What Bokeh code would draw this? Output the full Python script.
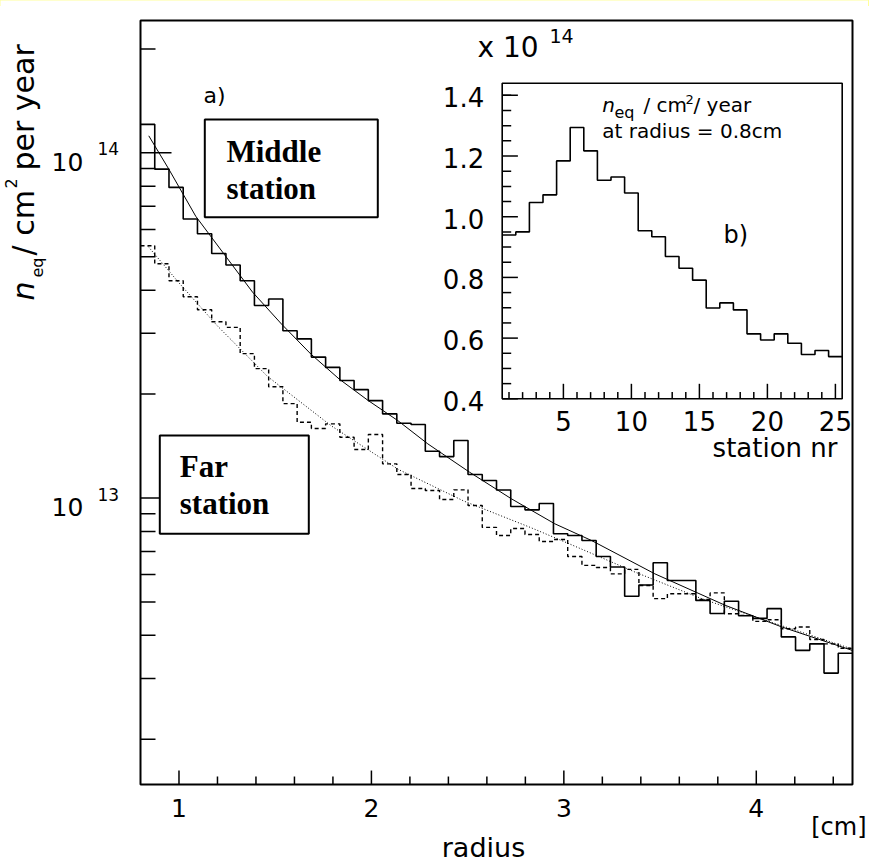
import numpy as np
from bokeh.plotting import figure
from bokeh.models import Range1d, LinearScale, Label, BoxAnnotation
from bokeh.embed import file_html
from bokeh.resources import INLINE

# ---------------- data ----------------
R_MIN, R_MAX, N_BINS = 0.8, 4.5, 50
Y_MIN, Y_MAX = 1.479e12, 2.415e14

# middle station histogram (units of 1e13 / cm^2 / year)
middle_vals = [12.09, 8.97, 7.94, 6.43, 5.83, 5.11, 4.73, 4.26, 3.61, 3.77,
               3.05, 2.89, 2.56, 2.39, 2.19, 2.06, 1.915, 1.753, 1.646, 1.632,
               1.366, 1.318, 1.467, 1.170, 1.124, 1.055, 0.945, 0.924, 0.964, 0.788,
               0.779, 0.753, 0.677, 0.631, 0.519, 0.560, 0.649, 0.577, 0.577, 0.505,
               0.463, 0.502, 0.456, 0.448, 0.478, 0.396, 0.362, 0.378, 0.311, 0.355]
# far station histogram
far_vals = [5.38, 4.77, 4.26, 3.83, 3.51, 3.24, 3.12, 2.62, 2.37, 2.10,
            1.877, 1.657, 1.589, 1.640, 1.500, 1.382, 1.527, 1.256, 1.170, 1.065,
            1.051, 0.990, 1.056, 0.951, 0.822, 0.779, 0.816, 0.784, 0.748, 0.758,
            0.677, 0.638, 0.629, 0.603, 0.621, 0.558, 0.511, 0.528, 0.528, 0.508,
            0.531, 0.462, 0.457, 0.439, 0.444, 0.418, 0.423, 0.389, 0.378, 0.367]
# fit curves
middle_fit_r = [0.843, 0.947, 1.087, 1.234, 1.382, 1.533, 1.686, 1.833, 1.981, 2.137,
                2.293, 2.510, 2.727, 2.953, 3.144, 3.473, 3.838, 4.133, 4.498]
middle_fit_v = [11.2, 8.97, 6.55, 5.09, 3.95, 3.19, 2.61, 2.21, 1.92, 1.676,
                1.435, 1.188, 0.995, 0.842, 0.753, 0.603, 0.489, 0.423, 0.362]
far_fit_r = [0.84, 1.00, 1.20, 1.46, 1.79, 2.14, 2.48, 2.83, 3.02, 3.37, 3.72, 4.06, 4.50]
far_fit_v = [5.35, 4.2, 3.15, 2.25, 1.62, 1.21, 0.98, 0.82, 0.74, 0.61, 0.51, 0.44, 0.365]

# inset: n_eq at r = 0.8 cm vs station number (units of 1e14)
stations = list(range(1, 26))
inset_vals = [0.94, 0.95, 1.047, 1.072, 1.184, 1.294, 1.217, 1.120, 1.131, 1.078,
              0.954, 0.934, 0.869, 0.830, 0.791, 0.699, 0.716, 0.693, 0.614, 0.594,
              0.614, 0.583, 0.546, 0.559, 0.539]
INSET_Y_MIN, INSET_Y_MAX = 0.4, 1.44
inset_y_major = [0.4, 0.6, 0.8, 1.0, 1.2, 1.4]
inset_y_major_labels = ["0.4", "0.6", "0.8", "1.0", "1.2", "1.4"]
inset_y_minor = [0.45, 0.5, 0.55, 0.65, 0.7, 0.75, 0.85, 0.9, 0.95, 1.05, 1.1, 1.15,
                 1.25, 1.3, 1.35, 1.4]
inset_x_major = [5, 10, 15, 20, 25]
inset_x_minor = [1, 2, 3, 4, 6, 7, 8, 9, 11, 12, 13, 14, 16, 17, 18, 19, 21, 22, 23, 24]

x_major = [1, 2, 3, 4]
x_major_labels = ["1", "2", "3", "4"]
x_minor = [1.2, 1.4, 1.6, 1.8, 2.2, 2.4, 2.6, 2.8, 3.2, 3.4, 3.6, 3.8, 4.2, 4.4]
y_major = [1e13, 1e14]
y_major_exp = ["13", "14"]
y_minor = [2e12, 3e12, 4e12, 5e12, 6e12, 7e12, 8e12, 9e12,
           2e13, 3e13, 4e13, 5e13, 6e13, 7e13, 8e13, 9e13, 2e14]

# ---------------- layout geometry (page pixels) ----------------
W, H = 868, 862
FL, FR, FT, FB = 140.0, 852.0, 20.0, 784.0     # main frame
DEC_PX, Y13_PX = 345.2, 497.5                  # px per decade, px of 1e13
IL, IR, IT, IB = 501.7, 841.7, 82.7, 398.3     # inset frame
KX = (R_MAX - R_MIN) / (FR - FL)
MID = 0.345   # em fraction between baseline and em-box middle

def mx(px):
    return R_MIN + (px - FL) * KX

def my(py):
    return 10 ** (13 + (Y13_PX - py) / DEC_PX)

ikx = 25.0 / (IR - IL)
iky = (INSET_Y_MAX - INSET_Y_MIN) / (IB - IT)

def ix(px):
    return 0.5 + (px - IL) * ikx

def iy(py):
    return INSET_Y_MIN + (IB - py) * iky

p = figure(width=W, height=H, x_range=Range1d(mx(0), mx(W)), y_range=Range1d(my(H), my(0)),
           y_axis_type="log", x_axis_location=None, y_axis_location=None,
           output_backend="svg", toolbar_location=None, min_border=0,
           background_fill_color="white", border_fill_color="white")
p.outline_line_color = None
p.xgrid.visible = False
p.ygrid.visible = False
p.extra_x_ranges = {"ix": Range1d(ix(0), ix(W))}
p.extra_y_ranges = {"iy": Range1d(iy(H), iy(0))}
p.extra_x_scales = {"ix": LinearScale()}
p.extra_y_scales = {"iy": LinearScale()}

# ---------------- main ticks (inward) ----------------
def up(v, px):      # value px pixels above v on the log axis
    return v * 10 ** (px / DEC_PX)

p.segment(x0=x_major, x1=x_major, y0=[Y_MIN] * 4, y1=[up(Y_MIN, 14)] * 4,
          line_color="black", line_width=1.5)
p.segment(x0=x_minor, x1=x_minor, y0=[Y_MIN] * len(x_minor), y1=[up(Y_MIN, 8)] * len(x_minor),
          line_color="black", line_width=1.5)
p.segment(x0=[R_MIN] * 2, x1=[R_MIN + 31 * KX] * 2, y0=y_major, y1=y_major,
          line_color="black", line_width=1.5)
p.segment(x0=[R_MIN] * len(y_minor), x1=[R_MIN + 15 * KX] * len(y_minor), y0=y_minor,
          y1=y_minor, line_color="black", line_width=1.5)

# ---------------- main histograms ----------------
edges = np.linspace(R_MIN, R_MAX, N_BINS + 1)
sx = np.repeat(edges, 2)[1:-1]
mid_y = np.repeat(np.array(middle_vals) * 1e13, 2)
far_y = np.repeat(np.array(far_vals) * 1e13, 2)
p.line(sx, far_y, line_color="black", line_width=1.4, line_dash="4 3")
p.line(far_fit_r, np.array(far_fit_v) * 1e13, line_color="black", line_width=1,
       line_dash="1 2")
p.line(sx, mid_y, line_color="black", line_width=1.6)
p.line(middle_fit_r, np.array(middle_fit_v) * 1e13, line_color="black", line_width=1)

# main frame
p.quad(left=[R_MIN], right=[R_MAX], bottom=[Y_MIN], top=[Y_MAX], fill_color=None,
       line_color="black", line_width=2)

# ---------------- inset ----------------
p.quad(left=[0.5], right=[25.5], bottom=[INSET_Y_MIN], top=[INSET_Y_MAX],
       fill_color="white", line_color="black", line_width=1.6,
       x_range_name="ix", y_range_name="iy")
iedges = np.arange(0.5, 26.0, 1.0)
isx = np.repeat(iedges, 2)[1:-1]
isy = np.repeat(np.array(inset_vals), 2)
p.line(isx, isy, line_color="black", line_width=1.6, x_range_name="ix", y_range_name="iy")

ymaj_len, ymin_len = 15.7 * ikx, 9 * ikx
xmaj_len, xmin_len = 15 * iky, 6.7 * iky
p.segment(x0=[0.5] * len(inset_y_major), x1=[0.5 + ymaj_len] * len(inset_y_major),
          y0=inset_y_major, y1=inset_y_major, line_color="black", line_width=1.5,
          x_range_name="ix", y_range_name="iy")
p.segment(x0=[0.5] * len(inset_y_minor), x1=[0.5 + ymin_len] * len(inset_y_minor),
          y0=inset_y_minor, y1=inset_y_minor, line_color="black", line_width=1.5,
          x_range_name="ix", y_range_name="iy")
p.segment(x0=inset_x_major, x1=inset_x_major, y0=[INSET_Y_MIN] * len(inset_x_major),
          y1=[INSET_Y_MIN + xmaj_len] * len(inset_x_major), line_color="black",
          line_width=1.5, x_range_name="ix", y_range_name="iy")
p.segment(x0=inset_x_minor, x1=inset_x_minor, y0=[INSET_Y_MIN] * len(inset_x_minor),
          y1=[INSET_Y_MIN + xmin_len] * len(inset_x_minor), line_color="black",
          line_width=1.5, x_range_name="ix", y_range_name="iy")

SANS = "DejaVu Sans"
SERIF = "Liberation Serif"

def ilabel(text, px, base, size, align="left", style="normal"):
    py = base - MID * size
    p.add_layout(Label(x=ix(px), y=iy(py), text=text, x_range_name="ix", y_range_name="iy",
                       text_font=SANS, text_font_size=f"{size}px", text_align=align,
                       text_baseline="middle", text_font_style=style, text_color="black"))

def mlabel(text, px, base, size, align="left", style="normal", font=SANS, rotated=False):
    if rotated:
        x, y, ang = mx(base - MID * size), my(px), np.pi / 2
    else:
        x, y, ang = mx(px), my(base - MID * size), 0.0
    p.add_layout(Label(x=x, y=y, text=text, text_font=font,
                       text_font_size=f"{size}px", text_align=align, text_baseline="middle",
                       text_font_style=style, text_color="black", angle=ang))

for v, t in zip(inset_y_major, inset_y_major_labels):
    p.add_layout(Label(x=0.5, y=v, x_offset=-18, y_offset=-2, text=t, x_range_name="ix",
                       y_range_name="iy", text_font=SANS, text_font_size="26px",
                       text_align="right", text_baseline="middle", text_color="black"))
for v in inset_x_major:
    p.add_layout(Label(x=v, y=INSET_Y_MIN, y_offset=-22, text=str(v), x_range_name="ix",
                       y_range_name="iy", text_font=SANS, text_font_size="26px",
                       text_align="center", text_baseline="middle", text_color="black"))

ilabel("station nr", 837, 456, 26, align="right")
ilabel("x 10", 477, 57, 28)
ilabel("14", 549, 42, 19)
ilabel("n", 601.7, 111.7, 20, style="italic")
ilabel("eq", 614, 118, 16)
ilabel("/ cm", 643, 111.7, 20)
ilabel("2", 685, 103, 13)
ilabel("/ year", 693, 111.7, 20)
ilabel("at radius = 0.8cm", 601.7, 137, 20)
ilabel("b)", 723, 243, 24)

# ---------------- boxes and annotation text ----------------
p.add_layout(BoxAnnotation(left=mx(204.3), right=mx(377.3), top=my(119), bottom=my(216.7),
                           fill_color="white", fill_alpha=1, line_color="black",
                           line_width=2, line_alpha=1))
p.add_layout(BoxAnnotation(left=mx(159.3), right=mx(308.3), top=my(435), bottom=my(533.3),
                           fill_color="white", fill_alpha=1, line_color="black",
                           line_width=2, line_alpha=1))
mlabel("Middle", 226, 161.5, 31, style="bold", font=SERIF)
mlabel("station", 226, 198.3, 31, style="bold", font=SERIF)
mlabel("Far", 179.3, 476.7, 31, style="bold", font=SERIF)
mlabel("station", 179.3, 513.3, 31, style="bold", font=SERIF)
mlabel("a)", 203, 103, 22)

# x tick labels
for v, t in zip(x_major, x_major_labels):
    p.add_layout(Label(x=v, y=my(807), text=t, text_font=SANS, text_font_size="25px",
                       text_align="center", text_baseline="middle", text_color="black"))

# y tick labels 10^13, 10^14
for t, e in zip(y_major, y_major_exp):
    tp = Y13_PX - (np.log10(t) - 13) * DEC_PX
    mlabel("10", 51, tp + 18, 25)
    mlabel(e, 97, tp + 2, 17)

# axis titles
p.add_layout(Label(x=mx(483), y=my(847), text="radius", text_font=SANS, text_font_size="27px",
                   text_align="center", text_baseline="middle", text_color="black"))
p.add_layout(Label(x=mx(866), y=my(826), text="[cm]", text_font=SANS, text_font_size="24px",
                   text_align="right", text_baseline="middle", text_color="black"))
mlabel("n", 300, 33, 30, style="italic", rotated=True)
mlabel("eq", 277, 43, 16, rotated=True)
mlabel("/ cm", 255, 33, 30, rotated=True)
mlabel("2", 188, 16, 16, rotated=True)
mlabel("per year", 170, 33, 30, rotated=True)

html = file_html(p, INLINE)
html = html.replace("</head>", "<style>body{background:linear-gradient(to bottom,#ffff99 0px,#ffff99 6px,#ffffff 6px) no-repeat;background-color:#ffffff}</style></head>", 1)
open("out.html", "w").write(html)
